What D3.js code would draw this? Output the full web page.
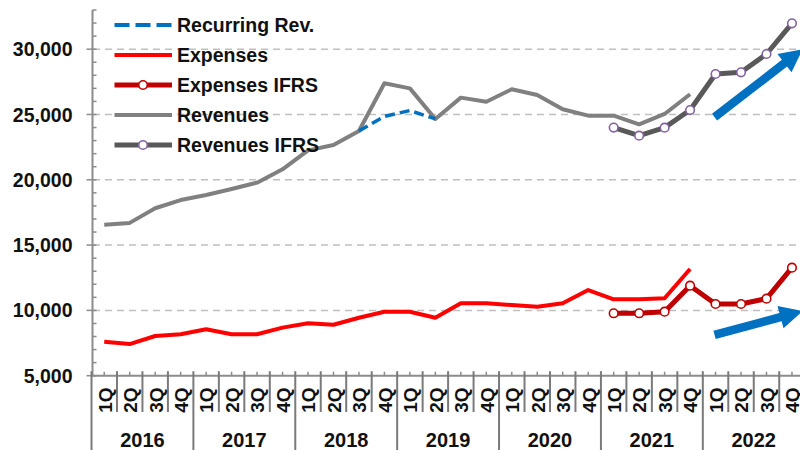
<!DOCTYPE html>
<html>
<head>
<meta charset="utf-8">
<script src="https://cdn.jsdelivr.net/npm/d3@7/dist/d3.min.js"></script>
<style>
  html, body { margin: 0; padding: 0; background: #fff; }
  svg { display: block; font-family: "Liberation Sans", Arial, sans-serif; font-weight: bold; }
</style>
</head>
<body>
<svg id="chart" width="800" height="450"></svg>
<script>
// Quarterly revenues and expenses, 2016–2022
const years = ["2016", "2017", "2018", "2019", "2020", "2021", "2022"];
const quarters = ["1Q", "2Q", "3Q", "4Q"];
const yTicks = [5000, 10000, 15000, 20000, 25000, 30000];

const revenues = [16550, 16700, 17820, 18450, 18840, 19300, 19780, 20800,
  22250, 22660, 23740, 27390, 27000, 24660, 26290, 25980, 26930, 26490,
  25400, 24910, 24910, 24250, 25040, 26550, null, null, null, null];
const recurringRev = [null, null, null, null, null, null, null, null, null, null,
  23740, 24850, 25300, 24660, null, null, null, null, null, null,
  null, null, null, null, null, null, null, null];
const revenuesIFRS = [null, null, null, null, null, null, null, null, null, null,
  null, null, null, null, null, null, null, null, null, null,
  24000, 23380, 23990, 25340, 28100, 28230, 29630, 31980];
const expenses = [7600, 7420, 8040, 8170, 8550, 8170, 8170, 8680, 9010, 8900,
  9440, 9900, 9900, 9440, 10540, 10540, 10410, 10280, 10540, 11560,
  10850, 10850, 10930, 13170, null, null, null, null];
const expensesIFRS = [null, null, null, null, null, null, null, null, null, null,
  null, null, null, null, null, null, null, null, null, null,
  9780, 9780, 9900, 11890, 10490, 10490, 10900, 13270];

const categories = [];
years.forEach(y => quarters.forEach(q => categories.push(y + "-" + q)));

const svg = d3.select("#chart");
const W = 800, H = 450;

const x = d3.scaleBand().domain(categories).range([91.5, 804.7]).padding(0);
const y = d3.scaleLinear().domain([5000, 33000]).range([375.7, 10]);
const bw = x.bandwidth();
const cx = i => x(categories[i]) + bw / 2;
const axisColor = "#8c8c8c";

// Horizontal dashed gridlines
svg.append("g").selectAll("line")
  .data(yTicks.filter(v => v > 5000))
  .join("line")
  .attr("x1", 93).attr("x2", W)
  .attr("y1", d => y(d)).attr("y2", d => y(d))
  .attr("stroke", "#c0c0c0").attr("stroke-width", 1.5)
  .attr("stroke-dasharray", "7,5");

// Y axis with major and minor ticks
const yAxis = svg.append("g").attr("transform", "translate(92.5,0)");
yAxis.append("line").attr("y1", y(33000)).attr("y2", y(5000))
  .attr("stroke", axisColor).attr("stroke-width", 2);
yAxis.selectAll("line.minor")
  .data(d3.range(5000, 33001, 1000))
  .join("line").attr("class", "minor")
  .attr("x1", d => d % 5000 === 0 ? -6 : 0).attr("x2", 4)
  .attr("y1", d => y(d)).attr("y2", d => y(d))
  .attr("stroke", axisColor).attr("stroke-width", 1.5);
yAxis.selectAll("text")
  .data(yTicks)
  .join("text")
  .attr("x", -20).attr("y", d => y(d)).attr("dy", "0.36em")
  .attr("text-anchor", "end").attr("font-size", 19.5).attr("fill", "#111")
  .text(d => d3.format(",")(d));

// X axis: baseline, boundary ticks, centre ticks, labels
const xAxis = svg.append("g");
const y0 = y(5000);
xAxis.append("line").attr("x1", 91.5).attr("x2", W).attr("y1", y0).attr("y2", y0)
  .attr("stroke", axisColor).attr("stroke-width", 2);
const edges = d3.range(categories.length + 1).map(i =>
  i < categories.length ? x(categories[i]) : x(categories[i - 1]) + bw);
xAxis.selectAll("line.edge").data(edges).join("line").attr("class", "edge")
  .attr("x1", d => d).attr("x2", d => d)
  .attr("y1", y0 - 4.5)
  .attr("y2", (d, i) => i % 4 === 0 ? H : 412)
  .attr("stroke", "#7a7a7a").attr("stroke-width", 2);
xAxis.selectAll("line.mid").data(categories).join("line").attr("class", "mid")
  .attr("x1", (d, i) => cx(i)).attr("x2", (d, i) => cx(i))
  .attr("y1", y0 - 4).attr("y2", y0)
  .attr("stroke", axisColor).attr("stroke-width", 1.5);
xAxis.selectAll("text.q").data(categories).join("text").attr("class", "q")
  .attr("transform", (d, i) => `translate(${cx(i) + 0.5},387.5) rotate(-90)`)
  .attr("text-anchor", "end").attr("dy", "0.36em")
  .attr("font-size", 19).attr("fill", "#111")
  .text(d => d.split("-")[1]);
xAxis.selectAll("text.yr").data(years).join("text").attr("class", "yr")
  .attr("x", d => x(d + "-1Q") + bw * 2)
  .attr("y", 446.5)
  .attr("text-anchor", "middle").attr("font-size", 20).attr("fill", "#111")
  .text(d => d);

// Series lines
const line = d3.line()
  .defined(d => d != null)
  .x((d, i) => cx(i))
  .y(d => y(d));

const series = [
  { name: "Revenues", data: revenues, color: "#808080", width: 4 },
  { name: "Revenues IFRS", data: revenuesIFRS, color: "#595959", width: 5, marker: "#8064a2" },
  { name: "Recurring Rev.", data: recurringRev, color: "#0070c0", width: 3.5, dash: "10,5", legendDash: "15,6" },
  { name: "Expenses", data: expenses, color: "#ff0000", width: 4 },
  { name: "Expenses IFRS", data: expensesIFRS, color: "#c00000", width: 5, marker: "#c00000" }
];

series.forEach(s => {
  svg.append("path")
    .attr("d", line(s.data))
    .attr("fill", "none")
    .attr("stroke", s.color)
    .attr("stroke-width", s.width)
    .attr("stroke-linejoin", "round")
    .attr("stroke-dasharray", s.dash || null);
  if (s.marker) {
    svg.append("g").selectAll("circle")
      .data(s.data.map((v, i) => ({ v, i })).filter(d => d.v != null))
      .join("circle")
      .attr("cx", d => cx(d.i)).attr("cy", d => y(d.v)).attr("r", 4.3)
      .attr("fill", "#fff").attr("stroke", s.marker).attr("stroke-width", 1.6);
  }
});

// Trend arrows
function arrow(x0, y0a, x1, y1a, shaft, headW, headL) {
  const dx = x1 - x0, dy = y1a - y0a, len = Math.hypot(dx, dy);
  const ux = dx / len, uy = dy / len, px = -uy, py = ux;
  const bx = x1 - ux * headL, by = y1a - uy * headL;
  const pts = [
    [x0 + px * shaft / 2, y0a + py * shaft / 2],
    [bx + px * shaft / 2, by + py * shaft / 2],
    [bx + px * headW / 2, by + py * headW / 2],
    [x1, y1a],
    [bx - px * headW / 2, by - py * headW / 2],
    [bx - px * shaft / 2, by - py * shaft / 2],
    [x0 - px * shaft / 2, y0a - py * shaft / 2]
  ];
  svg.append("path").attr("d", "M" + pts.map(p => p.join(",")).join("L") + "Z")
    .attr("fill", "#0070c0");
}
const xEnd = x.range()[1];
arrow(cx(24) - 1, y(24800), xEnd - 2, y(30000), 8.5, 23, 23);
arrow(cx(24) - 1, y(8120), xEnd - 2, y(9950), 8.5, 23, 23);

// Legend
const legend = svg.append("g");
const legendOrder = ["Recurring Rev.", "Expenses", "Expenses IFRS", "Revenues", "Revenues IFRS"];
legendOrder.forEach((name, k) => {
  const s = series.find(d => d.name === name);
  const ly = 25 + k * 30;
  legend.append("line").attr("x1", 114.5).attr("x2", 172).attr("y1", ly).attr("y2", ly)
    .attr("stroke", s.color).attr("stroke-width", s.width === 5 ? 5 : 4)
    .attr("stroke-dasharray", s.legendDash || null);
  if (s.marker) {
    legend.append("circle").attr("cx", 143).attr("cy", ly).attr("r", 4.3)
      .attr("fill", "#fff").attr("stroke", s.marker).attr("stroke-width", 1.6);
  }
  legend.append("text").attr("x", 177).attr("y", ly).attr("dy", "0.36em")
    .attr("font-size", 19.5).attr("fill", "#111").text(name);
});
</script>
</body>
</html>
